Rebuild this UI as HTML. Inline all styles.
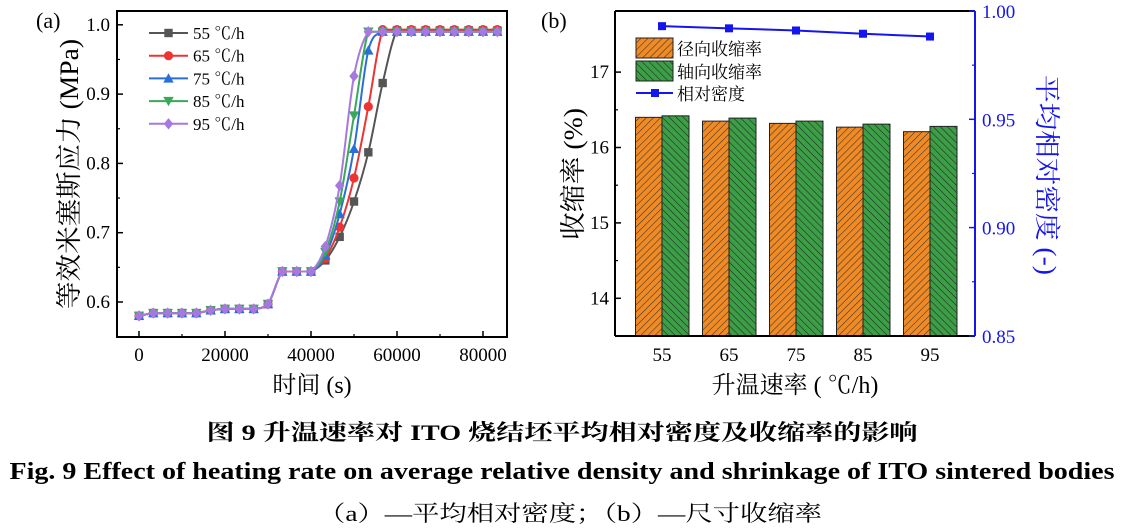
<!DOCTYPE html>
<html><head><meta charset="utf-8"><style>
html,body{margin:0;padding:0;background:#fff;}
svg{display:block;}
svg text{font-family:"Liberation Serif","Times New Roman",Times,"Noto Serif CJK SC","Noto Sans CJK SC",serif;}
</style></head><body>
<svg id="s" width="1123" height="528" viewBox="0 0 1123 528" xmlns="http://www.w3.org/2000/svg" font-family="Liberation Serif, Times New Roman, Noto Serif CJK SC, serif">
<defs>
<pattern id="po" patternUnits="userSpaceOnUse" width="5" height="5" patternTransform="rotate(45)">
<rect width="5" height="5" fill="#f08a24"/><line x1="0" y1="0" x2="0" y2="5" stroke="#333" stroke-width="1.1"/></pattern>
<pattern id="pg" patternUnits="userSpaceOnUse" width="5" height="5" patternTransform="rotate(-45)">
<rect width="5" height="5" fill="#3c9e46"/><line x1="0" y1="0" x2="0" y2="5" stroke="#222" stroke-width="1.1"/></pattern>
</defs>
<g id="A"></g>
<g id="B"></g>
<text x="562" y="440" font-size="22" font-weight="bold" text-anchor="middle" textLength="711" lengthAdjust="spacingAndGlyphs">图 9  升温速率对 ITO 烧结坯平均相对密度及收缩率的影响</text>
<text x="562" y="479" font-size="24" font-weight="bold" text-anchor="middle" textLength="1105" lengthAdjust="spacingAndGlyphs">Fig. 9 Effect of heating rate on average relative density and shrinkage of ITO sintered bodies</text>
<text x="570" y="521" font-size="22" text-anchor="middle" textLength="504" lengthAdjust="spacingAndGlyphs">（a）—平均相对密度；（b）—尺寸收缩率</text>
</svg>
<script>
var NS="http://www.w3.org/2000/svg";
function el(p,t,a,txt){var e=document.createElementNS(NS,t);for(var k in a)e.setAttribute(k,a[k]);if(txt!=null)e.textContent=txt;p.appendChild(e);return e;}
var A=document.getElementById("A"),B=document.getElementById("B");
function X(t){return 139+t*(344/80000);}
function Y(v){return 302-(v-0.6)*693;}
el(A,"rect",{x:117,y:11,width:390,height:326,fill:"none",stroke:"#000","stroke-width":2});
for(var i=0;i<=4;i++){var x=X(i*20000);el(A,"line",{x1:x,y1:337,x2:x,y2:331,stroke:"#000","stroke-width":1.5});
el(A,"text",{x:x,y:361,"font-size":19,"text-anchor":"middle"},String(i*20000));
if(i<4){var x2=X(i*20000+10000);el(A,"line",{x1:x2,y1:337,x2:x2,y2:334,stroke:"#000","stroke-width":1.2});}}
[0.6,0.7,0.8,0.9,1.0].forEach(function(v){var y=Y(v);el(A,"line",{x1:117,y1:y,x2:123,y2:y,stroke:"#000","stroke-width":1.5});
el(A,"text",{x:110,y:y+6,"font-size":19,"text-anchor":"end"},v.toFixed(1));});
[0.65,0.75,0.85,0.95].forEach(function(v){var y=Y(v);el(A,"line",{x1:117,y1:y,x2:120,y2:y,stroke:"#000","stroke-width":1.2});});
el(A,"text",{x:36,y:28,"font-size":22},"(a)");
el(A,"text",{x:312,y:393,"font-size":24,"text-anchor":"middle"},"时间 (s)");
el(A,"text",{x:0,y:0,"font-size":26,"text-anchor":"middle",textLength:270,lengthAdjust:"spacingAndGlyphs",transform:"translate(78,174) rotate(-90)"},"等效米塞斯应力 (MPa)");
var base=[0.58,0.584,0.584,0.584,0.584,0.588,0.59,0.59,0.59,0.597,0.644,0.644,0.644];
var tails=[[.660,.694,.745,.816,.916,.992],[.663,.708,.779,.882,.993],[.667,.727,.821,.963,.99],[.672,.745,.869,.99],[.68,.768,.926,.99]];
var cols=["#555555","#ee3333","#2a6fd6","#3aa85a","#a678e0"];
var shapes=["sq","ci","tu","td","di"];
function marker(p,s,x,y,c){var r=4.2;
if(s=="sq")el(p,"rect",{x:x-r,y:y-r,width:2*r,height:2*r,fill:c});
else if(s=="ci")el(p,"circle",{cx:x,cy:y,r:r+0.4,fill:c});
else if(s=="tu")el(p,"polygon",{points:(x)+","+(y-r-1)+" "+(x-r-1)+","+(y+r)+" "+(x+r+1)+","+(y+r),fill:c});
else if(s=="td")el(p,"polygon",{points:(x)+","+(y+r+1)+" "+(x-r-1)+","+(y-r)+" "+(x+r+1)+","+(y-r),fill:c});
else el(p,"polygon",{points:x+","+(y-r-1.5)+" "+(x+r+0.5)+","+y+" "+x+","+(y+r+1.5)+" "+(x-r-0.5)+","+y,fill:c});}
for(var s=0;s<5;s++){
var vals=base.concat(tails[s]);var last=vals[vals.length-1];while(vals.length<26)vals.push(last);
var pts=vals.map(function(v,k){return [X(k*10000/3),Y(v)];});
var d="M"+pts[0][0]+","+pts[0][1];
for(var k=0;k<pts.length-1;k++){var p0=pts[Math.max(0,k-1)],p1=pts[k],p2=pts[k+1],p3=pts[Math.min(pts.length-1,k+2)];
var c1=[p1[0]+(p2[0]-p0[0])/6,p1[1]+(p2[1]-p0[1])/6],c2=[p2[0]-(p3[0]-p1[0])/6,p2[1]-(p3[1]-p1[1])/6];
c1[1]=Math.max(Math.min(c1[1],Math.max(p1[1],p2[1])),Math.min(p1[1],p2[1]));
c2[1]=Math.max(Math.min(c2[1],Math.max(p1[1],p2[1])),Math.min(p1[1],p2[1]));
d+=" C"+c1[0]+","+c1[1]+" "+c2[0]+","+c2[1]+" "+p2[0]+","+p2[1];}
el(A,"path",{d:d,fill:"none",stroke:cols[s],"stroke-width":2});
pts.forEach(function(p){marker(A,shapes[s],p[0],p[1],cols[s]);});
var ly=33+s*22.7;el(A,"line",{x1:149,y1:ly,x2:188,y2:ly,stroke:cols[s],"stroke-width":2});marker(A,shapes[s],168.5,ly,cols[s]);
el(A,"text",{x:193,y:ly+6,"font-size":17},(55+s*10)+"  ℃/h");}
function YL(v){return 147.5-(v-16)*75.4;}
function YR(v){return 11+(1-v)*2166;}
var cx=[662,729,796,863,930],ov=[16.40,16.35,16.32,16.27,16.21],gv=[16.42,16.39,16.35,16.31,16.28],dv=[.993,.992,.991,.9895,.9882];
for(var i=0;i<5;i++){
el(B,"rect",{x:cx[i]-26.5,y:YL(ov[i]),width:26.5,height:336-YL(ov[i]),fill:"url(#po)",stroke:"#222","stroke-width":1});
el(B,"rect",{x:cx[i],y:YL(gv[i]),width:27,height:336-YL(gv[i]),fill:"url(#pg)",stroke:"#222","stroke-width":1});
el(B,"text",{x:cx[i],y:361,"font-size":19,"text-anchor":"middle"},String(55+i*10));}
el(B,"line",{x1:615,y1:11,x2:975,y2:11,stroke:"#000","stroke-width":2});
el(B,"line",{x1:615,y1:336,x2:975,y2:336,stroke:"#000","stroke-width":2});
el(B,"line",{x1:615,y1:11,x2:615,y2:336,stroke:"#000","stroke-width":2});
el(B,"line",{x1:975,y1:11,x2:975,y2:336,stroke:"#1515ee","stroke-width":2});
[14,15,16,17].forEach(function(v){var y=YL(v);el(B,"line",{x1:615,y1:y,x2:621,y2:y,stroke:"#000","stroke-width":1.5});
el(B,"text",{x:609,y:y+6,"font-size":19,"text-anchor":"end"},String(v));});
[14.5,15.5,16.5].forEach(function(v){var y=YL(v);el(B,"line",{x1:615,y1:y,x2:618,y2:y,stroke:"#000","stroke-width":1.2});});
[0.85,0.90,0.95,1.00].forEach(function(v){var y=YR(v);el(B,"line",{x1:975,y1:y,x2:969,y2:y,stroke:"#1515ee","stroke-width":1.5});
el(B,"text",{x:982,y:y+7,"font-size":19,fill:"#1515ee"},v.toFixed(2));});
[0.875,0.925,0.975].forEach(function(v){var y=YR(v);el(B,"line",{x1:975,y1:y,x2:972,y2:y,stroke:"#1515ee","stroke-width":1.2});});
var dp=cx.map(function(x,i){return x+","+YR(dv[i]);}).join(" ");
el(B,"polyline",{points:dp,fill:"none",stroke:"#1515ee","stroke-width":2});
cx.forEach(function(x,i){el(B,"rect",{x:x-4,y:YR(dv[i])-4,width:8,height:8,fill:"#1515ee"});});
el(B,"text",{x:541,y:28,"font-size":22},"(b)");
el(B,"text",{x:795,y:393,"font-size":24,"text-anchor":"middle"},"升温速率 ( ℃/h)");
el(B,"text",{x:0,y:0,"font-size":26,"text-anchor":"middle",textLength:132,lengthAdjust:"spacingAndGlyphs",transform:"translate(582,174) rotate(-90)"},"收缩率 (%)");
el(B,"text",{x:0,y:0,"font-size":26,"text-anchor":"middle",fill:"#1515ee",textLength:200,lengthAdjust:"spacingAndGlyphs",transform:"translate(1038,175) rotate(90)"},"平均相对密度 (-)");
el(B,"rect",{x:636,y:38,width:37,height:20,fill:"url(#po)",stroke:"#222","stroke-width":1});
el(B,"rect",{x:636,y:61,width:37,height:20,fill:"url(#pg)",stroke:"#222","stroke-width":1});
el(B,"line",{x1:636,y1:93,x2:673,y2:93,stroke:"#1515ee","stroke-width":2});
el(B,"rect",{x:651,y:89,width:8,height:8,fill:"#1515ee"});
el(B,"text",{x:677,y:55,"font-size":17},"径向收缩率");
el(B,"text",{x:677,y:78,"font-size":17},"轴向收缩率");
el(B,"text",{x:677,y:100,"font-size":17},"相对密度");
</script>
</body></html>
